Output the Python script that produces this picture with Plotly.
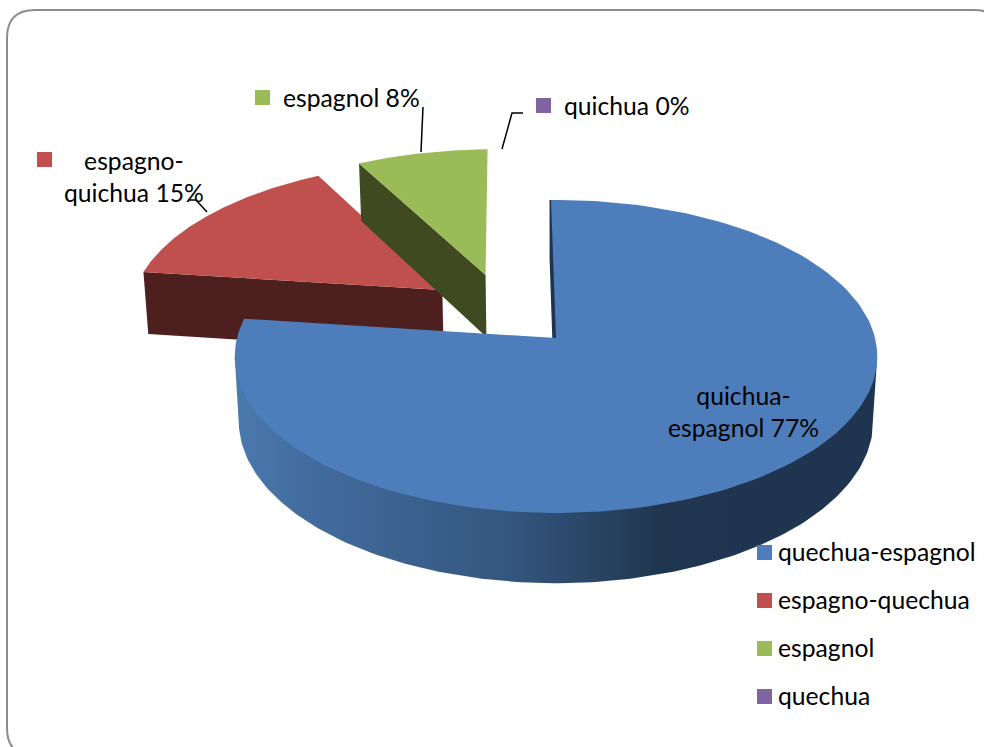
import numpy as np
import plotly.graph_objects as go

# ---- data ----
categories = ["quechua-espagnol", "espagno-quechua", "espagnol", "quechua"]
shares = [77.3, 15.0, 7.68, 0.02]
label_lines = ["quichua-<br>espagnol 77%", "espagno-<br>quichua 15%", "espagnol 8%", "quichua 0%"]
top_colors = ["#4d7ebb", "#c0504d", "#9bbb59", "#8064a2"]
wall_colors = ["#1f3450", "#4d1f1e", "#404a21", "#32264a"]
# how far each slice is pulled out of the pie, in pie radii (sideways, backwards)
explode = [(0.0, 0.0), (-0.37, 0.323), (-0.232, 0.429), (-0.232, 0.429)]

# ---- 3-D projection of the pie onto the page (pixels) ----
CX, CY = 556.0, 338.0
A, B, C = 319.0, 154.3, 65.0
K, Q = 0.118, 0.0125
START = -1.0


def project(u, v, z=0.0):
    w = 1 + K * np.asarray(v, float) + Q * z
    return CX + A * np.asarray(u, float) / w, CY + (-B * np.asarray(v, float) + C * z) / w


def circle(t0, t1, off, n=160):
    t = np.radians(np.linspace(t0, t1, n))
    return off[0] + np.sin(t), off[1] + np.cos(t)


cum = np.concatenate([[0], np.cumsum(shares)]) / sum(shares) * 360 + START
spans = list(zip(cum[:-1], cum[1:]))
fig = go.Figure()


def poly(x, y, color=None, **kw):
    args = dict(x=x, y=y, mode="lines", fill="toself", line=dict(width=0),
                hoverinfo="skip", showlegend=False)
    if color:
        args["fillcolor"] = color
    args.update(kw)
    fig.add_trace(go.Scatter(**args))


def wall(off, theta, color, **kw):
    """flat cut face of a slice between the apex and the rim at angle theta"""
    u = np.array([off[0], off[0] + np.sin(np.radians(theta))])
    v = np.array([off[1], off[1] + np.cos(np.radians(theta))])
    x0, y0 = project(u, v, 0)
    x1, y1 = project(u, v, 1)
    poly(np.r_[x0, x1[::-1]], np.r_[y0, y1[::-1]], color, **kw)


def top(i):
    off = explode[i]
    u, v = circle(*spans[i], off)
    x, y = project(np.r_[off[0], u], np.r_[off[1], v])
    poly(x, y, top_colors[i])


# back to front: red, green, purple, then blue
wall(explode[1], spans[1][0], wall_colors[1])
top(1)
wall(explode[2], spans[2][0], wall_colors[2])
top(2)
top(3)

# blue rim with the horizontal shading, between the two silhouette points of the disc
side = np.degrees(np.arccos(-K))
u, v = circle(side, 360 - side, explode[0])
xa, ya = project(u, v, 0)
xb, yb = project(u, v, 1)
rim_stops = [[0.0, "#4a79ae"], [0.1, "#436da0"], [0.25, "#3c6290"], [0.42, "#345780"],
             [0.6, "#263f5c"], [0.66, "#20364f"], [1.0, "#1f3450"]]
poly(np.r_[xa[0], xb, xa[-1]], np.r_[ya[0], yb, ya[-1]],
     fillgradient=dict(type="horizontal", colorscale=rim_stops, start=236, stop=877))
wall(explode[0], spans[0][0], wall_colors[0], line=dict(width=3, color=wall_colors[0]))
top(0)

# ---- text ----
FONT = "Lato, Carlito, Calibri, sans-serif"
FS = 24.7
label_pos = [(743, 411), (134, 176), (351, 97), (627, 105)]
for txt, (px, py) in zip(label_lines, label_pos):
    fig.add_annotation(x=px, y=py, text=txt, showarrow=False, xanchor="center", yanchor="middle",
                       align="center", font=dict(family=FONT, size=FS, color="#000"))

# colour keys next to the data labels
key_x, key_y = [44.5, 262.5, 543.5], [159.5, 97.5, 105.5]
fig.add_trace(go.Scatter(x=key_x, y=key_y, mode="markers", hoverinfo="skip", showlegend=False,
                         marker=dict(symbol="square", size=15, color=[top_colors[1], top_colors[2], top_colors[3]])))

# legend
fig.add_trace(go.Scatter(x=[764.5] * 4, y=[552.5, 600.5, 648.5, 696.5], mode="markers", hoverinfo="skip",
                         showlegend=False,
                         marker=dict(symbol="square", size=15, color=top_colors)))
for name, ly in zip(categories, [551.5, 599.5, 647.5, 695.5]):
    fig.add_annotation(x=776, y=ly, text=name, showarrow=False, xanchor="left", yanchor="middle",
                       font=dict(family=FONT, size=FS, color="#000"))

# leader lines
for path in ["M188,200 L196,200 L207,212", "M423,107 L421,152", "M502,149 L512,113 L523,113"]:
    fig.add_shape(type="path", path=path, line=dict(color="#000", width=1.5), layer="above")

# rounded frame
fig.add_shape(type="path", layer="below", line=dict(color="#8c8c8c", width=2),
              path="M7,38 Q7,10 35,10 L974,10 Q1002,10 1002,38 L1002,728 Q1002,756 974,756 L35,756 Q7,756 7,728 Z")

fig.update_layout(width=984, height=747, margin=dict(l=0, r=0, t=0, b=0), autosize=False,
                  paper_bgcolor="white", plot_bgcolor="white", showlegend=False,
                  xaxis=dict(range=[0, 984], visible=False, fixedrange=True),
                  yaxis=dict(range=[747, 0], visible=False, fixedrange=True))
fig.write_html("out.html", config=dict(displayModeBar=False),
               post_script="document.body.style.margin='0';document.body.style.overflow='hidden';")
